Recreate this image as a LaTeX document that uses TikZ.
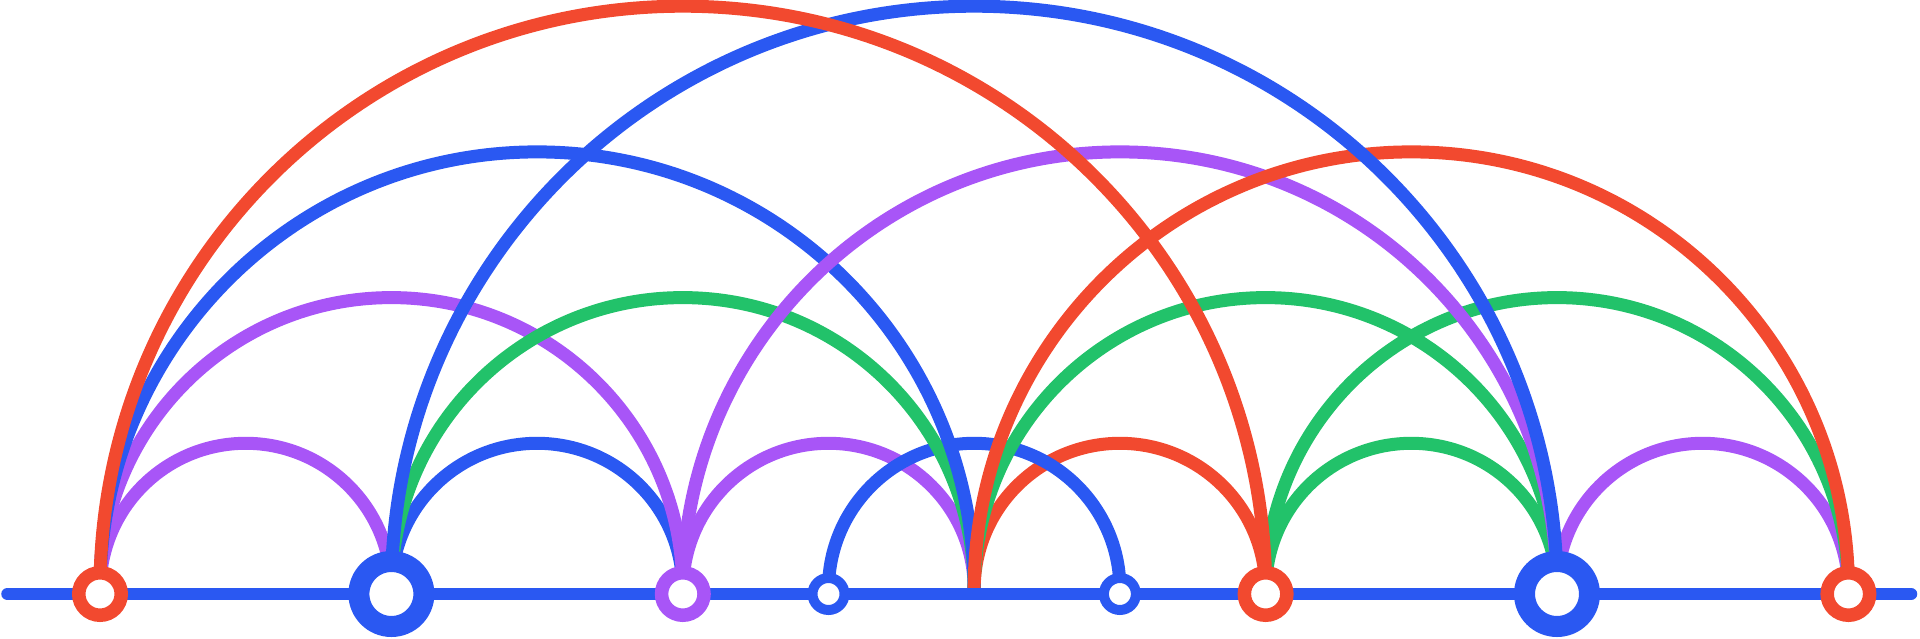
\documentclass[tikz,border=0pt]{standalone}
\usetikzlibrary{positioning,calc,backgrounds}

\definecolor{arcred}{HTML}{F2492F}
\definecolor{arcblue}{HTML}{2A58F2}
\definecolor{arcpurple}{HTML}{A855F7}
\definecolor{arcgreen}{HTML}{22C26A}

\tikzset{
	ring/.style={circle, draw, fill=white, inner sep=0pt},
	redring/.style={ring, draw=arcred, minimum size=0.425cm, line width=0.135cm},
	purplering/.style={ring, draw=arcpurple, minimum size=0.425cm, line width=0.135cm},
	bigring/.style={ring, draw=arcblue, minimum size=0.65cm, line width=0.21cm},
	smallring/.style={ring, draw=arcblue, minimum size=0.32cm, line width=0.10cm},
	arch/.style={line width=0.13cm},
	rail/.style={draw=arcblue, line width=0.125cm, line cap=round}
}

\begin{document}
\begin{tikzpicture}[on grid]
	\useasboundingbox (0,0) rectangle (19.2,6.38);
	\node[redring]    (T_0)  at (1,0.44) {};
	\node[bigring]    (T_2)  [right=2.914cm of T_0] {};
	\node[purplering] (T_4)  [right=2.914cm of T_2] {};
	\node[smallring]  (T_5)  [right=1.457cm of T_4] {};
	\node[smallring]  (T_7)  [right=2.914cm of T_5] {};
	\node[redring]    (T_8)  [right=1.457cm of T_7] {};
	\node[bigring]    (T_10) [right=2.914cm of T_8] {};
	\node[redring]    (T_12) [right=2.914cm of T_10] {};
	\coordinate (T_6) at ($(T_5)!0.5!(T_7)$);
	\coordinate (L) at ($(T_0)+(-0.925,0)$);
	\coordinate (R) at ($(T_12)+(0.626,0)$);
	
	\begin{scope}[on background layer]
		\foreach \a/\b/\c in {T_0/T_2/arcpurple, T_2/T_4/arcblue, T_4/T_6/arcpurple,
			T_6/T_8/arcred, T_5/T_7/arcblue, T_8/T_10/arcgreen, T_10/T_12/arcpurple,
			T_0/T_4/arcpurple, T_2/T_6/arcgreen, T_6/T_10/arcgreen, T_8/T_12/arcgreen,
			T_0/T_6/arcblue, T_4/T_10/arcpurple, T_6/T_12/arcred,
			T_2/T_10/arcblue, T_0/T_8/arcred}
		\draw[arch, draw=\c] let \p1=(\a), \p2=(\b) in
			(\x1,\y1+0.05cm) arc[start angle=180, end angle=0, radius={(\x2-\x1)/2}];
		\draw[rail] (L) -- (R);
	\end{scope}
\end{tikzpicture}
\end{document}
